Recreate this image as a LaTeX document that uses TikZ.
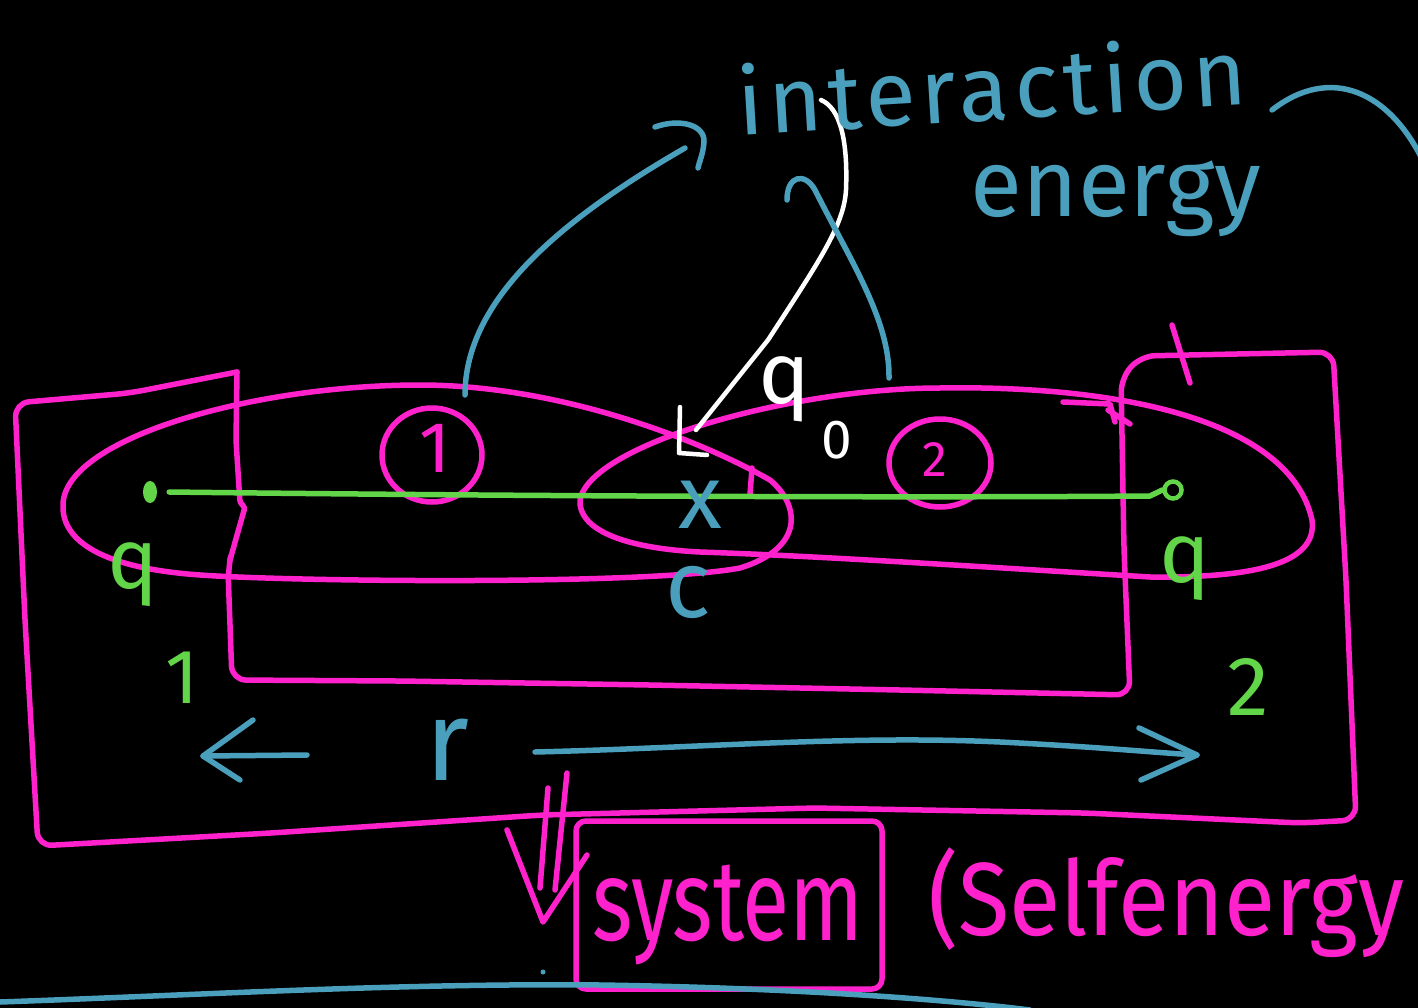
\documentclass[tikz,border=0pt]{standalone}
\usepackage{fontspec}
\newfontfamily\hand{Fira Sans}
\newfontfamily\handW{Fira Sans}[FakeStretch=1.0,LetterSpace=6]
\newfontfamily\handN{Fira Sans}[FakeStretch=0.75]
\newfontfamily\handS{Fira Sans}[FakeStretch=0.9]
\usetikzlibrary{shapes.geometric}
\definecolor{pk}{HTML}{FF22CC}
\definecolor{tl}{HTML}{4A9FBC}
\definecolor{gr}{HTML}{62D548}
\begin{document}
\begin{tikzpicture}[x=1pt,y=-1pt,
  pen/.style={line width=5.5pt,line cap=round,line join=round},
  pinkpen/.style={pen,draw=pk},
  tealpen/.style={pen,draw=tl},
  greenpen/.style={pen,draw=gr},
  whitepen/.style={pen,draw=white},
  lbl/.style={inner sep=0pt,outer sep=0pt,anchor=base},
  ring/.style={pinkpen,ellipse,inner sep=0pt},
]
\fill[black] (0,0) rectangle (1418,1008);
\useasboundingbox (0,0) rectangle (1418,1008);

% ---------- pink frame (system region) ----------
\draw[pinkpen,rounded corners=14pt]
  (237,372) -- (130,393) -- (15,403) -- (25,620) -- (38,846)
  -- (271,833) -- (542,815) -- (814,808) -- (1085,813) -- (1300,823)
  -- (1356,820) -- (1346,580) -- (1333,352) -- (1141,356) -- (1121,378)
  -- (1124,550) -- (1130,695) -- (900,690) -- (650,685) -- (400,681)
  -- (232,680) -- (228,570) -- (230,560);
\draw[pinkpen,rounded corners=3pt] (230,560) -- (245,507) -- (240,503) -- (236,440) -- (237,372);

% ---------- the two regions (ellipses) ----------
\draw[pinkpen] (63,507) .. controls (60,440) and (250,385) .. (420,385)
  .. controls (560,385) and (700,440) .. (770,480)
  .. controls (800,505) and (805,548) .. (740,568)
  .. controls (650,585) and (300,582) .. (200,575)
  .. controls (100,568) and (63,540) .. (63,507);
\draw[pinkpen] (580,500) .. controls (590,445) and (790,388) .. (940,388)
  .. controls (1120,385) and (1290,420) .. (1312,520)
  .. controls (1318,565) and (1250,578) .. (1150,577)
  .. controls (1000,568) and (820,556) .. (700,552)
  .. controls (620,548) and (578,528) .. (580,500);
\draw[pinkpen] (752,468) -- (750,494);
\draw[pinkpen] (1172,325) -- (1190,383);
\draw[pinkpen] (1063,402) -- (1110,404) -- (1115,422);
\draw[pinkpen] (1108,410) -- (1130,424);

% ---------- circled region numbers ----------
\node[ring,minimum width=100pt,minimum height=94pt] (c1) at (432,455) {};
\node[lbl,text=pk,font=\hand\fontsize{72}{72}\selectfont] (n1) at (435,472) {1};
\node[ring,minimum width=102pt,minimum height=88pt] (c2) at (940,463) {};
\node[lbl,text=pk,font=\hand\fontsize{50}{50}\selectfont] (n2) at (935,476) {2};

% ---------- charges and the line joining them ----------
\node[fill=gr,ellipse,minimum width=14pt,minimum height=22pt,inner sep=0pt] (q1dot) at (150,492) {};
\node[draw=gr,line width=4.5pt,circle,minimum size=17pt,inner sep=0pt] (q2dot) at (1173,490) {};
\draw[greenpen] ([xshift=12pt]q1dot.east) .. controls (500,496) and (900,498) .. (1150,496) -- (q2dot.west);
\node[lbl,text=gr,font=\hand\fontsize{85}{85}\selectfont] (q1) at (133,588) {q};
\node[lbl,text=gr,font=\hand\fontsize{77}{77}\selectfont] (q1s) at (182,703) {1};
\node[lbl,text=gr,font=\hand\fontsize{85}{85}\selectfont] (q2) at (1185,582) {q};
\node[lbl,text=gr,font=\hand\fontsize{84}{84}\selectfont] (q2s) at (1248,715) {2};

% ---------- centre point ----------
\node[lbl,text=tl,font=\hand\fontsize{90}{90}\selectfont] (xm) at (700,528) {x};
\node[lbl,text=tl,font=\hand\fontsize{95}{95}\selectfont] (cm) at (688,617) {c};

% ---------- q0 and its arrow ----------
\node[lbl,text=white,font=\hand\fontsize{87}{87}\selectfont] (q0) at (785,403) {q};
\node[lbl,text=white,font=\hand\fontsize{55}{55}\selectfont] (q0s) at (837,458) {0};
\coordinate (wtop) at (821,100);
\coordinate (wtip) at (679,453);
\draw[whitepen,line width=4.5pt] (wtop) .. controls (840,108) and (848,140) .. (846,190)
  .. controls (844,225) and (820,260) .. (768,340) -- (696,430);
\draw[whitepen,line width=4.5pt] (680,407) -- (wtip) -- (707,455);

% ---------- interaction energy ----------
\node[lbl,text=tl,rotate=3.5,font=\handW\fontsize{92}{92}\selectfont] (inter) at (994,120) {interaction};
\node[lbl,text=tl,font=\hand\fontsize{95}{95}\selectfont] (energy) at (1116,217) {energy};
\coordinate (e1top) at (465,395);
\coordinate (e2top) at (889,378);
\draw[tealpen] (e1top) .. controls (465,300) and (560,220) .. (685,148);
\draw[tealpen] (655,127) .. controls (680,118) and (705,125) .. (704,142)
  .. controls (703,155) and (699,162) .. (698,168);
\draw[tealpen] (787,200) .. controls (787,175) and (805,172) .. (815,190)
  .. controls (850,260) and (890,320) .. (e2top);
\draw[tealpen] (1272,110) .. controls (1330,65) and (1390,90) .. (1425,165);

% ---------- separation r ----------
\node[lbl,text=tl,font=\hand\fontsize{114}{114}\selectfont] (r) at (447,780) {r};
\coordinate (la) at (203,756);
\draw[tealpen] (307,755) -- (la);
\draw[tealpen] (253,720) -- (la) -- (240,780);
\coordinate (ra) at (1197,755);
\draw[tealpen] (535,752) .. controls (700,748) and (850,735) .. (1000,742)
  .. controls (1100,747) and (1160,753) .. (ra);
\draw[tealpen] (1139,728) -- (ra) -- (1141,780);

% ---------- system (self energy) ----------
\draw[pinkpen] (548,788) -- (540,888);
\draw[pinkpen] (567,773) -- (555,890);
\draw[pinkpen] (507,830) -- (543,922) -- (587,855);
\node[pinkpen,draw=pk,rectangle,rounded corners=10pt,minimum width=306pt,minimum height=168pt,inner sep=0pt] (sysbox) at (729,905) {};
\node[lbl,text=pk,font=\handN\fontsize{115}{115}\selectfont] (sys) at (728,940) {system};
\node[lbl,anchor=base west,text=pk,font=\handS\fontsize{104}{104}\selectfont] (self) at (928,935) {(Selfenergy};

% ---------- bottom teal stroke ----------
\draw[tealpen] (0,1002) .. controls (200,995) and (400,983) .. (600,985)
  .. controls (800,988) and (950,1000) .. (1030,1010);
\fill[tl] (543,972) circle (2.5pt);
\end{tikzpicture}
\end{document}
